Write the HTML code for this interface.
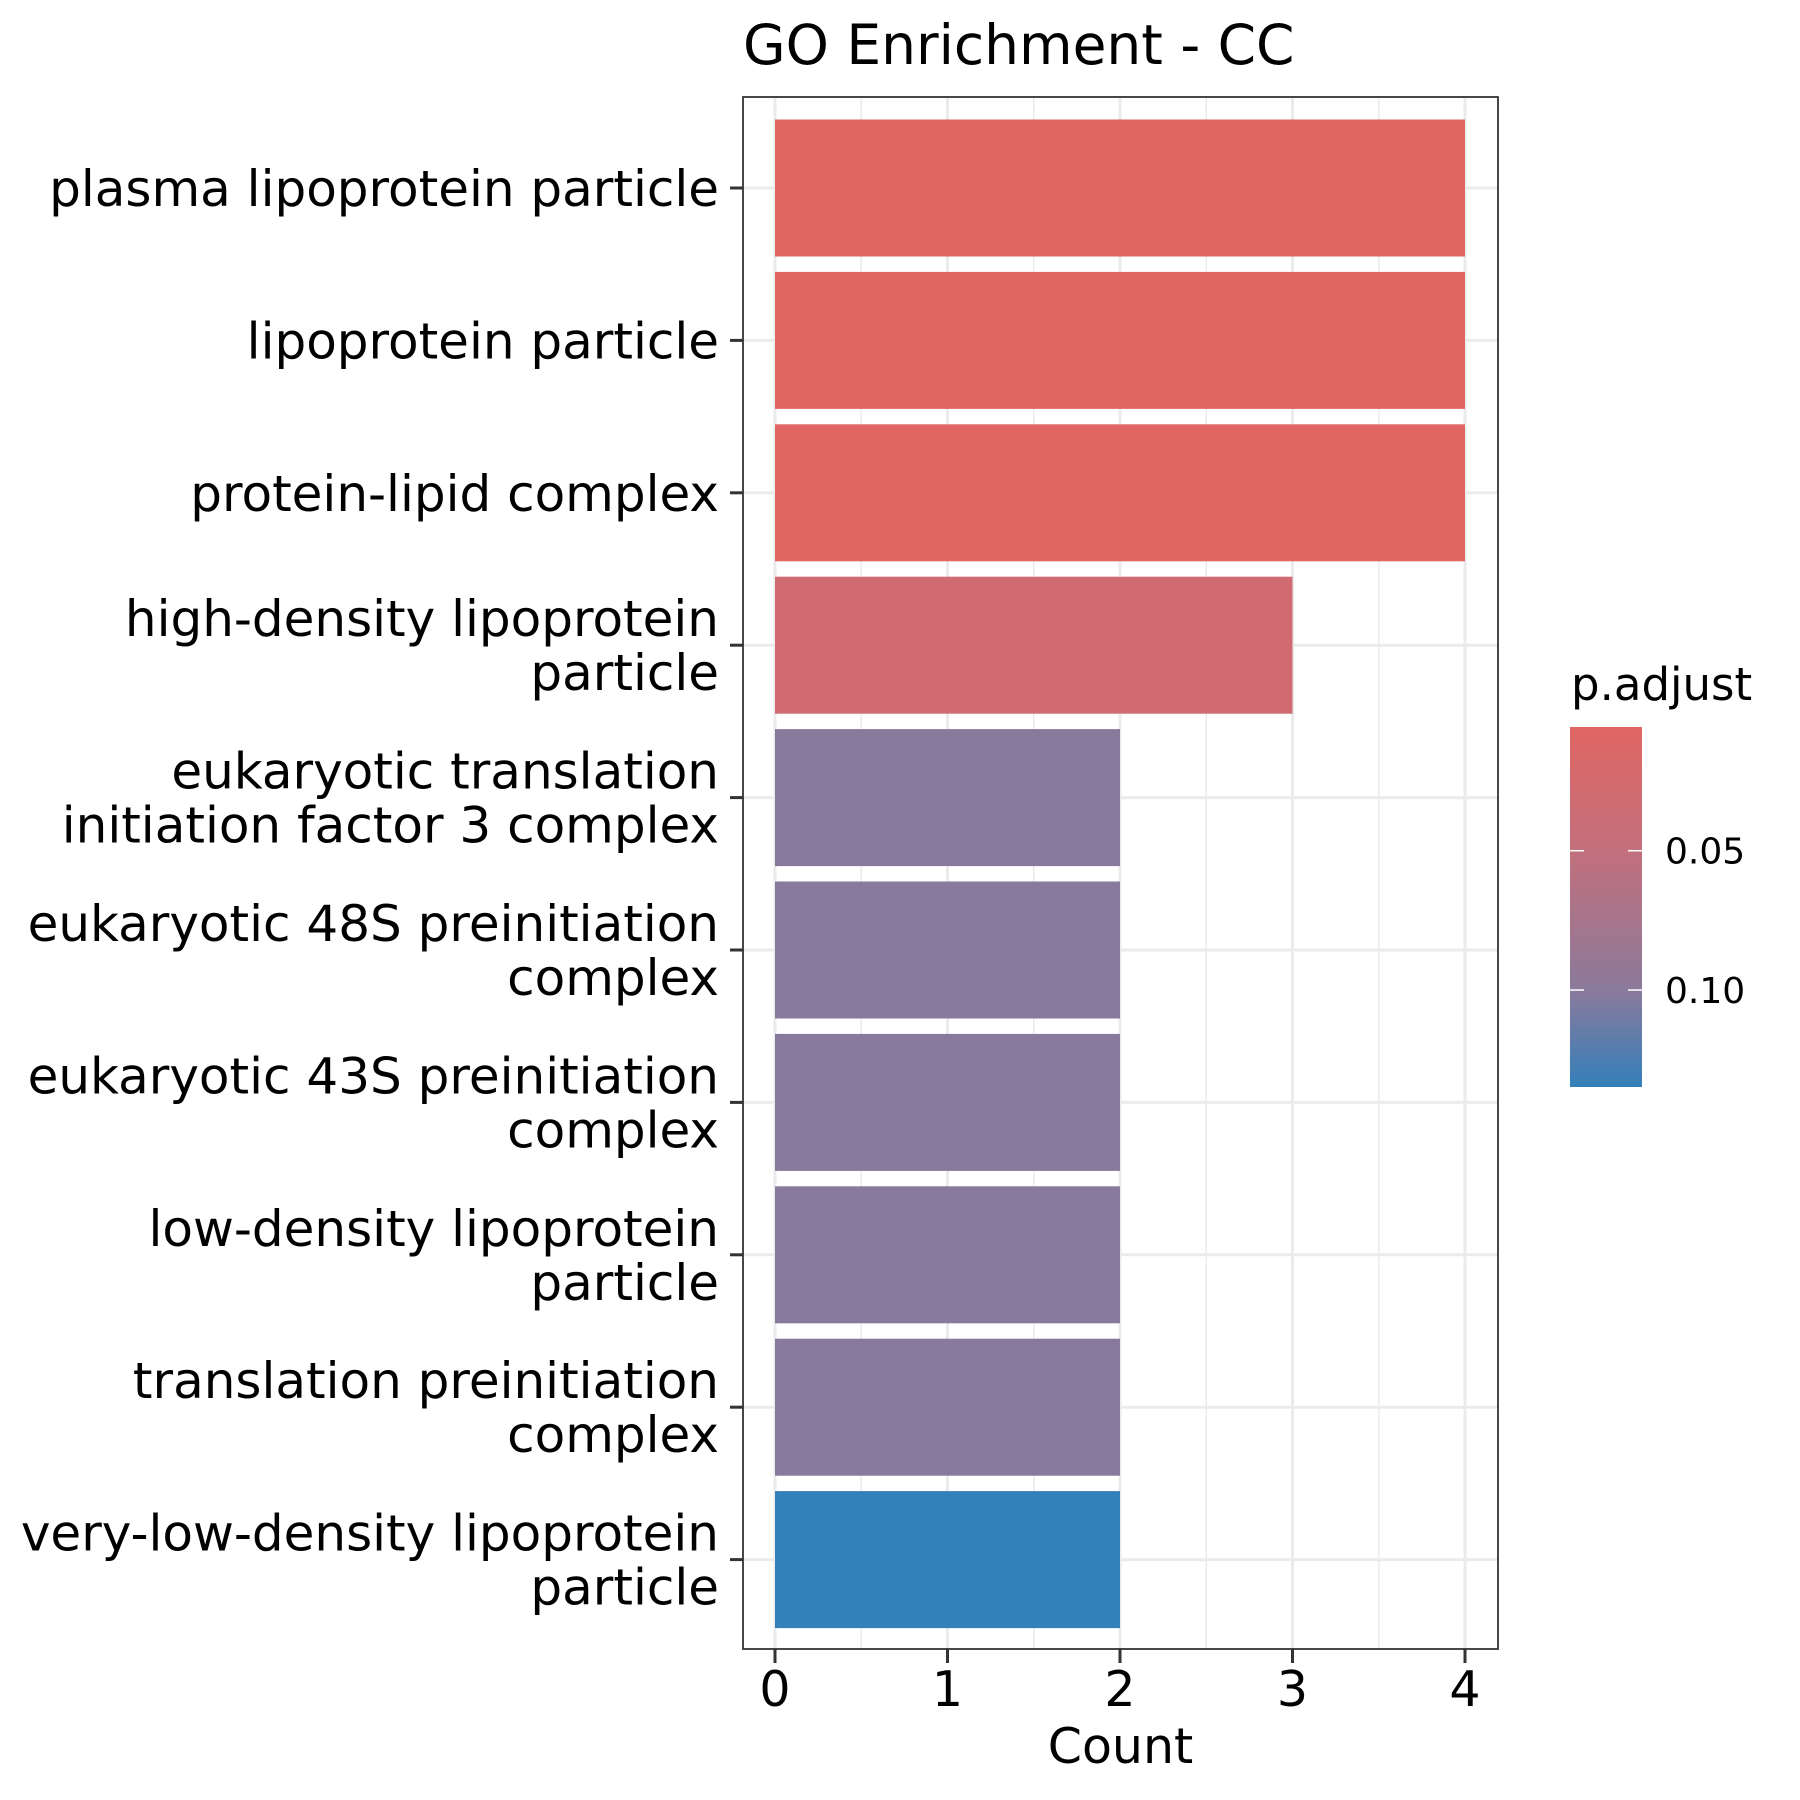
<!DOCTYPE html>
<html><head><meta charset="utf-8"><style>html,body{margin:0;padding:0;background:#fff}svg{display:block;font-family:"DejaVu Sans","Liberation Sans",sans-serif}</style></head>
<body>
<svg id="chart" width="1800" height="1800" viewBox="0 0 1800 1800" xmlns="http://www.w3.org/2000/svg">
<defs><linearGradient id="lg" x1="0" y1="0" x2="0" y2="1"><stop offset="0" stop-color="#E06663"/><stop offset="0.33" stop-color="#C46F7B"/><stop offset="0.73" stop-color="#8B7A9B"/><stop offset="1" stop-color="#3480BA"/></linearGradient></defs>
</svg>
<script>
const categories=["plasma lipoprotein particle","lipoprotein particle","protein-lipid complex","high-density lipoprotein|particle","eukaryotic translation|initiation factor 3 complex","eukaryotic 48S preinitiation|complex","eukaryotic 43S preinitiation|complex","low-density lipoprotein|particle","translation preinitiation|complex","very-low-density lipoprotein|particle"];
const counts=[4,4,4,3,2,2,2,2,2,2];
const padj=[0.006,0.006,0.006,0.03,0.1,0.1,0.1,0.1,0.1,0.133];
const xTicks=[0,1,2,3,4];
const legendTicks=[0.05,0.10];
const legendTickLabels=["0.05","0.10"];

const NS="http://www.w3.org/2000/svg";
const svg=document.getElementById('chart');
const P={l:743,t:97,r:1498,b:1649};
const x=v=>775+v*172.5;
const y=i=>188+i*152.4;
const bandH=137;
const pMin=0.0056,pMax=0.133;
const stops=[[0,[224,102,99]],[0.33,[196,111,123]],[0.73,[139,122,155]],[1,[52,128,186]]];
function col(p){let t=(p-pMin)/(pMax-pMin);t=Math.max(0,Math.min(1,t));for(let k=1;k<stops.length;k++){if(t<=stops[k][0]){const a=stops[k-1],b=stops[k];const f=(t-a[0])/(b[0]-a[0]);const c=a[1].map((v,j)=>Math.round(v+(b[1][j]-v)*f));return `rgb(${c})`;}}return 'rgb(52,128,186)';}
const ly=p=>727+(p-pMin)/(pMax-pMin)*(1082-727);
function el(tag,attrs,parent){const e=document.createElementNS(NS,tag);for(const k in attrs)e.setAttribute(k,attrs[k]);(parent||svg).appendChild(e);return e;}

el('rect',{x:P.l,y:P.t,width:P.r-P.l,height:P.b-P.t,fill:'#fff'});
for(let k=0;k<xTicks.length-1;k++){const g=el('line',{x1:x(xTicks[k]+0.5),x2:x(xTicks[k]+0.5),y1:P.t,y2:P.b,stroke:'#EBEBEB','stroke-width':1.5});

}
xTicks.forEach(v=>{const g=el('line',{x1:x(v),x2:x(v),y1:P.t,y2:P.b,stroke:'#EBEBEB','stroke-width':3});

});
categories.forEach((c,i)=>{const g=el('line',{x1:P.l,x2:P.r,y1:y(i),y2:y(i),stroke:'#EBEBEB','stroke-width':3});

});
categories.forEach((c,i)=>{const b=el('rect',{x:x(0),y:y(i)-bandH/2,width:x(counts[i])-x(0),height:bandH,fill:col(padj[i])});

});
const border=el('rect',{x:P.l,y:P.t,width:P.r-P.l,height:P.b-P.t,fill:'none',stroke:'#333','stroke-width':1.8});


categories.forEach((c,i)=>{el('line',{x1:730,x2:743,y1:y(i),y2:y(i),stroke:'#333','stroke-width':3});
const lines=c.split('|');const t=el('text',{'font-size':50,'text-anchor':'end',fill:'#000'});


lines.forEach((s,j)=>{const ts=el('tspan',{x:719,y:y(i)+18+(j-(lines.length-1)/2)*54},t);ts.textContent=s;});});
xTicks.forEach(v=>{el('line',{x1:x(v),x2:x(v),y1:P.b,y2:P.b+14,stroke:'#333','stroke-width':3});
const t=el('text',{x:x(v),y:1706,'font-size':49,'text-anchor':'middle',fill:'#000'});


t.textContent=v;});
const xt=el('text',{x:(P.l+P.r)/2,y:1763,'font-size':49,'text-anchor':'middle',fill:'#000'});


xt.textContent='Count';
const tt=el('text',{x:743,y:64,'font-size':55,fill:'#000'});


tt.textContent='GO Enrichment - CC';
const lt=el('text',{x:1571,y:700,'font-size':45,fill:'#000'});


lt.textContent='p.adjust';
const lb=el('rect',{x:1570,y:727,width:72,height:360,fill:'url(#lg)'});


legendTicks.forEach((v,k)=>{const yy=ly(v);
el('line',{x1:1570,x2:1584,y1:yy,y2:yy,stroke:'#fff','stroke-width':1.5});
el('line',{x1:1628,x2:1642,y1:yy,y2:yy,stroke:'#fff','stroke-width':1.5});
const t=el('text',{x:1665,y:yy+13,'font-size':36,fill:'#000'});


t.textContent=legendTickLabels[k];});
</script>
</body></html>
